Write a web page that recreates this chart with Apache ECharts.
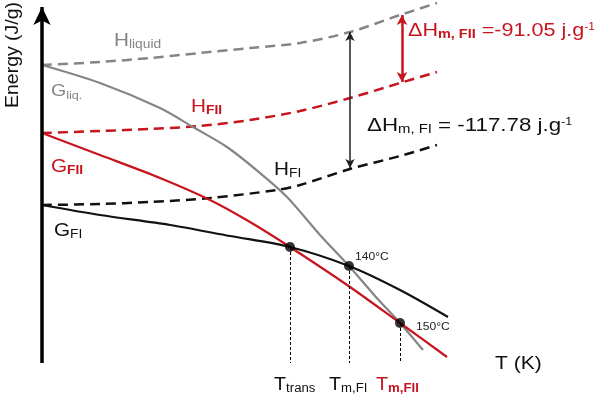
<!DOCTYPE html>
<html><head><meta charset="utf-8">
<script src="https://cdn.jsdelivr.net/npm/echarts@6/dist/echarts.min.js"></script>
<style>html,body{margin:0;padding:0;background:#fff}#c{width:600px;height:400px}</style>
</head><body><div id="c"></div>
<script>
// Schematic energy-temperature diagram (arbitrary units)
const hLiquidX = [0, 58, 108, 158, 208, 258, 308, 358, 395];
const hLiquidY = [298, 301, 305, 310, 315, 320, 331, 348, 360];
const hFIIX = [0, 58, 108, 158, 208, 258, 308, 358, 395];
const hFIIY = [230, 232, 234, 237, 243, 252, 265, 280, 291];
const hFIX = [0, 58, 108, 168, 235, 258, 308, 358, 395];
const hFIY = [158, 159, 161, 165, 173, 178, 194, 207, 218];
const gLiqX = [0, 58, 118, 151, 185, 218, 245, 278, 307, 333, 358, 381];
const gLiqY = [298, 280, 255, 236, 216, 190, 166, 128, 97, 67, 40, 13];
const gFIIX = [0, 58, 118, 168, 208, 248, 308, 358, 405];
const gFIIY = [230, 208, 185, 163, 141, 116, 76, 40, 6];
const gFIX = [0, 58, 128, 188, 248, 307, 358, 406];
const gFIY = [158, 148, 138, 127, 116, 97, 73, 46];
const crossX = [248, 307, 358];
const crossY = [116, 97, 40];
const dHFIx = 308, dHFItop = 331, dHFIbottom = 195;
const dHFIIx = 360, dHFIItop = 348, dHFIIbottom = 281;
const axisXmax = 440, axisYmax = 356;

const pairs = (xs, ys) => xs.map((x, i) => [x, ys[i]]);
const GRAY = '#858585', RED = '#c8141e', BLACK = '#111';
const FONT = '"Liberation Sans", Arial, sans-serif';

const chart = echarts.init(document.getElementById('c'));
function lineSeries(xs, ys, color, width, type) {
  return { type: 'line', data: pairs(xs, ys), smooth: 0.3, symbol: 'none', clip: false,
    lineStyle: { color, width, type }, z: 3 };
}
function txt(x, y, text, rich, fill, sx) {
  const r = {};
  for (const k in rich) r[k] = Object.assign({ fontFamily: FONT, fill }, rich[k]);
  return { type: 'text', x, y, z: 10, scaleX: sx || 1.15,
    style: { text, rich: r, fill, fontFamily: FONT, textVerticalAlign: 'top' } };
}
const main = (s) => ({ fontSize: s, padding: [0, 0, 8, 0] });
const sub = (s, w) => ({ fontSize: s, fontWeight: w || 'normal' });
const sup = (s) => ({ fontSize: s, verticalAlign: 'top', padding: [0, 0, 14, 0] });

chart.setOption({
  animation: false,
  grid: { left: 42, right: 118, top: 0, bottom: 37 },
  xAxis: { type: 'value', min: 0, max: axisXmax, show: false },
  yAxis: { type: 'value', min: 0, max: 363, show: false },
  series: [
    lineSeries(hLiquidX, hLiquidY, GRAY, 2.5, [10, 6]),
    lineSeries(hFIIX, hFIIY, RED, 2.5, [10, 6]),
    lineSeries(hFIX, hFIY, BLACK, 2.5, [10, 6]),
    lineSeries(gLiqX, gLiqY, GRAY, 2.2, 'solid'),
    lineSeries(gFIIX, gFIIY, RED, 2.2, 'solid'),
    lineSeries(gFIX, gFIY, BLACK, 2.2, 'solid'),
    { type: 'scatter', data: pairs(crossX, crossY), symbolSize: 10, itemStyle: { color: '#000' }, z: 5 },
    { type: 'line', data: [], clip: false,
      markLine: { silent: true, symbol: ['none', 'none'], label: { show: false },
        lineStyle: { color: '#000', width: 1, type: [3, 2] },
        data: crossX.map((x, i) => [{ coord: [x, crossY[i]] }, { coord: [x, 0] }]) } },
    { type: 'line', data: [], clip: false,
      markLine: { silent: true, symbol: ['none', 'arrow'], symbolSize: [13, 18], label: { show: false },
        lineStyle: { color: '#000', width: 3.5, type: 'solid' },
        data: [[{ coord: [0, 0] }, { coord: [0, axisYmax] }],
               [{ coord: [-4, 0] }, { coord: [axisXmax, 0] }]] } },
    { type: 'line', data: [], clip: false,
      markLine: { silent: true, symbol: ['arrow', 'arrow'], symbolSize: [7, 9], label: { show: false },
        lineStyle: { color: '#222', width: 1.5, type: 'solid' },
        data: [[{ coord: [dHFIx, dHFItop] }, { coord: [dHFIx, dHFIbottom] }]] } },
    { type: 'line', data: [], clip: false,
      markLine: { silent: true, symbol: ['arrow', 'arrow'], symbolSize: [8, 10], label: { show: false },
        lineStyle: { color: RED, width: 2.5, type: 'solid' },
        data: [[{ coord: [dHFIIx, dHFIItop] }, { coord: [dHFIIx, dHFIIbottom] }]] } }
  ],
  graphic: [
    { type: 'text', x: 13, y: 55, rotation: Math.PI / 2, scaleX: 1.08, z: 10,
      style: { text: 'Energy (J/g)', fill: '#111', fontFamily: FONT, fontSize: 18, textAlign: 'center', textVerticalAlign: 'middle' } },
    txt(114, 32, '{a|H}{b|liquid}', { a: main(18), b: sub(12) }, GRAY),
    txt(51, 83, '{a|G}{b|liq.}', { a: main(17), b: sub(11) }, GRAY),
    txt(191, 98, '{a|H}{b|FII}', { a: main(18), b: sub(12, 'bold') }, RED),
    txt(51, 158, '{a|G}{b|FII}', { a: main(18), b: sub(12, 'bold') }, RED),
    txt(274, 161, '{a|H}{b|FI}', { a: main(18), b: sub(12) }, BLACK),
    txt(54, 222, '{a|G}{b|FI}', { a: main(18), b: sub(12) }, BLACK),
    txt(408, 22, '{a|ΔH}{b|m, FII}{a| =-91.05 j.g}{c|-1}', { a: main(18), b: sub(12, 'bold'), c: sup(10) }, RED, 1.2),
    txt(367, 117, '{a|ΔH}{b|m, FI}{a| = -117.78 j.g}{c|-1}', { a: main(18), b: sub(12), c: sup(10) }, BLACK, 1.24),
    txt(355, 251, '{a|140°C}', { a: { fontSize: 11 } }, '#222', 1.1),
    txt(416, 321, '{a|150°C}', { a: { fontSize: 11 } }, '#222', 1.1),
    txt(495, 355, '{a|T (K)}', { a: { fontSize: 18 } }, BLACK, 1.17),
    txt(274, 376, '{a|T}{b|trans}', { a: main(18), b: sub(12) }, BLACK, 1.1),
    txt(329, 376, '{a|T}{b|m,FI}', { a: main(18), b: sub(12) }, BLACK, 1.1),
    txt(376, 376, '{a|T}{b|m,FII}', { a: main(18), b: sub(12, 'bold') }, RED, 1.1)
  ]
});
</script></body></html>
